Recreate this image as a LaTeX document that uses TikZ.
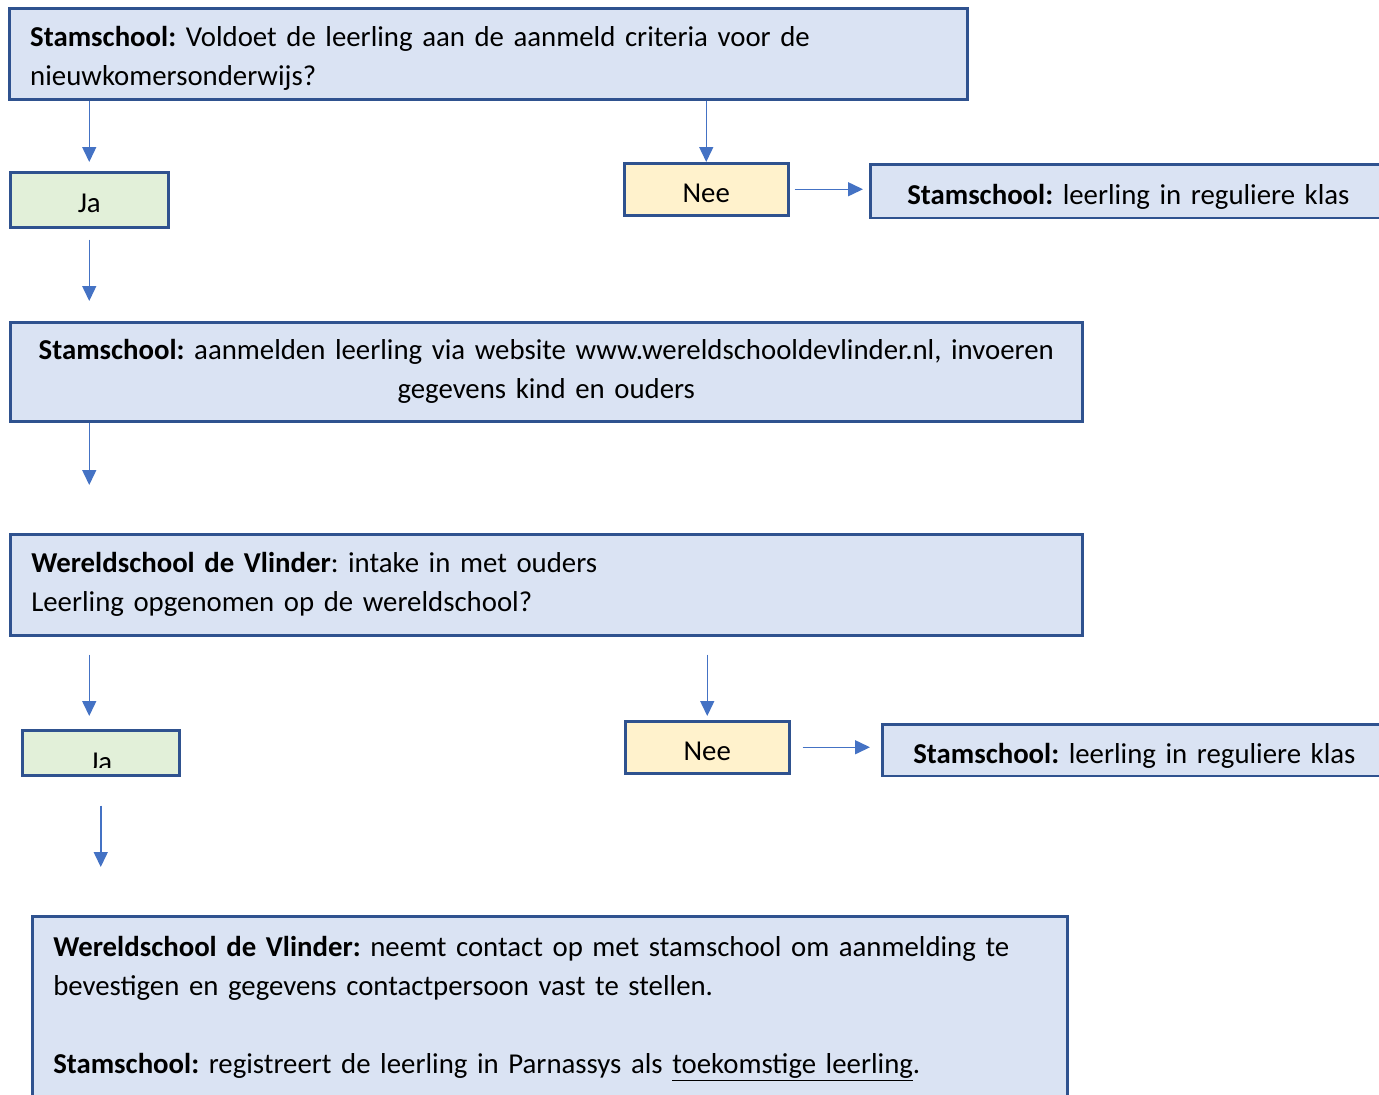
\documentclass[tikz,border=0pt]{standalone}
\usepackage{fontspec}
\setmainfont{Carlito}
\usetikzlibrary{arrows.meta}

\definecolor{boxblue}{HTML}{DAE3F3}
\definecolor{boxgreen}{HTML}{E2F0D9}
\definecolor{boxyellow}{HTML}{FFF2CC}
\definecolor{boxline}{HTML}{2F528F}
\definecolor{arrowblue}{HTML}{4472C4}
\newcommand\boxfont{\fontsize{28.8pt}{39pt}\selectfont\frenchspacing}

\begin{document}
\begin{tikzpicture}[%
        x=1pt, y=-1pt,
        every node/.style={font=\boxfont},
        mybox/.style={draw=boxline, line width=2.5pt, anchor=north west, inner ysep=0pt},
        bluebox/.style={mybox, fill=boxblue},
        smallbox/.style={mybox, text height=26pt, text depth=0pt},
        jabox/.style={smallbox, fill=boxgreen, minimum width=158pt, minimum height=55pt},
        neebox/.style={smallbox, fill=boxyellow, minimum width=164pt, minimum height=52pt},
        myarrow/.style={draw=arrowblue, line width=1.5pt, -{Triangle[width=14pt,length=15pt]}}
    ]
    \clip (0,0) rectangle (1379,1095);

    \node [bluebox, minimum height=91pt, text width=916pt, inner xsep=21pt, align=left] (q1) at (8,7)
        {\rule{0pt}{30pt}\textbf{Stamschool:} Voldoet de leerling aan de aanmeld criteria voor de\\nieuwkomersonderwijs?};
    \node [jabox] (ja1) at (9,171) {Ja};
    \node [neebox] (nee1) at (623,162) {Nee};
    \node [bluebox, smallbox, minimum height=53.5pt, text width=484pt, inner xsep=37pt, align=left] (right1) at (869,163)
        {\textbf{Stamschool:} leerling in reguliere klas};

    \node [bluebox, minimum height=99pt, text width=1052pt, inner xsep=10pt, align=center] (q2) at (9,321)
        {\textbf{Stamschool:} aanmelden leerling via website www.wereldschooldevlinder.nl, invoeren\\gegevens kind en ouders};

    \node [bluebox, minimum height=101pt, text width=1030pt, inner xsep=21pt, align=left] (q3) at (9,533)
        {\textbf{Wereldschool de Vlinder}: intake in met ouders\\Leerling opgenomen op de wereldschool?};

    \node [jabox, minimum width=157pt, minimum height=45pt] (ja2) at (21,729) {};
    \begin{scope}
        \clip (22,730) rectangle (180,767);
        \node [anchor=base] (ja2text) at (ja2.center |- 0,771) {Ja};
    \end{scope}
    \node [neebox] (nee2) at (624,720) {Nee};
    \node [bluebox, smallbox, minimum height=51.5pt, text width=484pt, inner xsep=31pt, align=left] (right2) at (881,723)
        {\textbf{Stamschool:} leerling in reguliere klas};

    \node [bluebox, text width=993pt, inner xsep=21pt, inner ysep=20pt, align=left] (q4) at (31,915)
        {\textbf{Wereldschool de Vlinder:} neemt contact op met stamschool om aanmelding te\\
         bevestigen en gegevens contactpersoon vast te stellen.\\[39pt]
         \textbf{Stamschool:} registreert de leerling in Parnassys als \underline{toekomstige leerling}.\rule[-60pt]{0pt}{1pt}};

    \draw [myarrow, shorten >=9pt] (ja1.north |- q1.south) -- (ja1.north);
    \draw [myarrow] (nee1.north |- q1.south) -- (nee1.north);
    \draw [myarrow, shorten <=5pt, shorten >=6pt] (nee1.east) -- (nee1.east -| right1.west);
    \draw [myarrow, shorten <=11pt, shorten >=20pt] (ja1.south) -- (ja1.south |- q2.north);
    \draw [myarrow, shorten >=48pt] (ja1.south |- q2.south) -- (ja1.south |- q3.north);
    \draw [myarrow, shorten <=18pt, shorten >=13pt] (ja1.south |- q3.south) -- (ja1.south |- ja2.north);
    \draw [myarrow, shorten <=18pt, shorten >=4pt] (nee2.north |- q3.south) -- (nee2.north);
    \draw [myarrow, shorten <=12pt, shorten >=11pt] (nee2.east) -- (nee2.east -| right2.west);
    \draw [myarrow, shorten <=29pt, shorten >=48pt] (ja2.south) -- (ja2.south |- q4.north);
\end{tikzpicture}
\end{document}
